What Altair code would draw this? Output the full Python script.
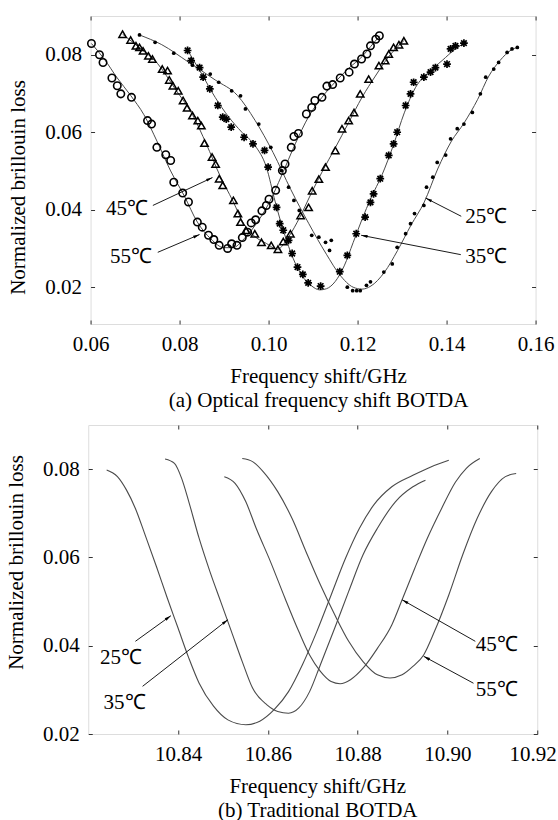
import math
import altair as alt
import pandas as pd

FONT = "Liberation Serif"
INK = "#000000"
FRAME = "#333333"
CURVE = "#4a4a4a"

# ================= panel (a): optical frequency shift BOTDA =================
A_XTICKS = [0.06, 0.08, 0.10, 0.12, 0.14, 0.16]
A_YTICKS = [0.02, 0.04, 0.06, 0.08]
A_XDOM = [0.06, 0.16]
A_YDOM = [0.0105, 0.09]

# fitted curves
A25_FIT_X = [0.0710, 0.0760, 0.0820, 0.0880, 0.0930, 0.0970, 0.1010, 0.1050, 0.1090, 0.1130,
             0.1160, 0.1190, 0.1210, 0.1230, 0.1260, 0.1290, 0.1320, 0.1350, 0.1380, 0.1410,
             0.1440, 0.1470, 0.1495, 0.1520, 0.1545, 0.1559]
A25_FIT_Y = [0.0851, 0.0826, 0.0781, 0.0735, 0.0695, 0.0630, 0.0548, 0.0452, 0.0365, 0.0285,
             0.0232, 0.0200, 0.0195, 0.0203, 0.0238, 0.0295, 0.0360, 0.0420, 0.0505, 0.0575,
             0.0625, 0.0685, 0.0745, 0.0785, 0.0812, 0.0819]
A35_FIT_X = [0.0820, 0.0850, 0.0880, 0.0910, 0.0940, 0.0970, 0.0995, 0.1015, 0.1035, 0.1055,
             0.1075, 0.1095, 0.1115, 0.1130, 0.1150, 0.1170, 0.1190, 0.1210, 0.1230, 0.1255,
             0.1280, 0.1305, 0.1330, 0.1360, 0.1390, 0.1420, 0.1440]
A35_FIT_Y = [0.0808, 0.0750, 0.0690, 0.0640, 0.0600, 0.0565, 0.0510, 0.0420, 0.0340, 0.0275,
             0.0230, 0.0205, 0.0193, 0.0196, 0.0215, 0.0255, 0.0315, 0.0375, 0.0430, 0.0490,
             0.0565, 0.0650, 0.0715, 0.0755, 0.0785, 0.0815, 0.0830]
A45_FIT_X = [0.0672, 0.0710, 0.0750, 0.0790, 0.0830, 0.0860, 0.0890, 0.0920, 0.0945, 0.0970,
             0.0995, 0.1020, 0.1045, 0.1070, 0.1095, 0.1120, 0.1150, 0.1180, 0.1210, 0.1240,
             0.1270, 0.1304]
A45_FIT_Y = [0.0853, 0.0818, 0.0778, 0.0712, 0.0643, 0.0570, 0.0490, 0.0422, 0.0362, 0.0330,
             0.0313, 0.0298, 0.0330, 0.0380, 0.0440, 0.0497, 0.0560, 0.0625, 0.0690, 0.0745,
             0.0795, 0.0836]
A55_FIT_X = [0.0602, 0.0630, 0.0660, 0.0690, 0.0720, 0.0750, 0.0780, 0.0810, 0.0840, 0.0870,
             0.0900, 0.0920, 0.0945, 0.0970, 0.1000, 0.1030, 0.1060, 0.1090, 0.1120, 0.1150,
             0.1180, 0.1210, 0.1230, 0.1250]
A55_FIT_Y = [0.0829, 0.0790, 0.0740, 0.0695, 0.0645, 0.0575, 0.0500, 0.0437, 0.0368, 0.0325,
             0.0302, 0.0302, 0.0325, 0.0360, 0.0415, 0.0490, 0.0570, 0.0640, 0.0690, 0.0730,
             0.0765, 0.0795, 0.0822, 0.0849]

# measured points
A25_PTS_X = [0.0710, 0.0745, 0.0787, 0.0829, 0.0869, 0.0888, 0.0917, 0.0937, 0.0948, 0.0978,
             0.1005, 0.1029, 0.1045, 0.1057, 0.1069, 0.1097, 0.1113, 0.1128, 0.1137, 0.1141,
             0.1161, 0.1177, 0.1189, 0.1198, 0.1206, 0.1220, 0.1229, 0.1259, 0.1278, 0.1289,
             0.1308, 0.1319, 0.1328, 0.1349, 0.1355, 0.1369, 0.1379, 0.1398, 0.1409, 0.1424,
             0.1439, 0.1458, 0.1476, 0.1488, 0.1506, 0.1517, 0.1536, 0.1547, 0.1559]
A25_PTS_Y = [0.0851, 0.0832, 0.0804, 0.0773, 0.0750, 0.0729, 0.0707, 0.0694, 0.0660, 0.0621,
             0.0561, 0.0501, 0.0458, 0.0424, 0.0398, 0.0334, 0.0329, 0.0316, 0.0295, 0.0321,
             0.0237, 0.0200, 0.0191, 0.0191, 0.0191, 0.0205, 0.0214, 0.0239, 0.0260, 0.0303,
             0.0338, 0.0364, 0.0390, 0.0411, 0.0458, 0.0484, 0.0522, 0.0541, 0.0583, 0.0609,
             0.0621, 0.0651, 0.0699, 0.0742, 0.0763, 0.0780, 0.0806, 0.0815, 0.0819]
A35_PTS_X = [0.0818, 0.0826, 0.0845, 0.0853, 0.0868, 0.0886, 0.0897, 0.0905, 0.0916, 0.0945,
             0.0965, 0.0991, 0.0999, 0.1018, 0.1025, 0.1033, 0.1045, 0.1053, 0.1065, 0.1077,
             0.1089, 0.1117, 0.1160, 0.1177, 0.1197, 0.1217, 0.1229, 0.1236, 0.1251, 0.1270,
             0.1281, 0.1289, 0.1308, 0.1319, 0.1326, 0.1349, 0.1364, 0.1375, 0.1401, 0.1409,
             0.1420, 0.1439]
A35_PTS_Y = [0.0811, 0.0785, 0.0767, 0.0742, 0.0712, 0.0669, 0.0639, 0.0634, 0.0613, 0.0587,
             0.0570, 0.0553, 0.0510, 0.0406, 0.0364, 0.0347, 0.0321, 0.0287, 0.0252, 0.0233,
             0.0211, 0.0203, 0.0240, 0.0282, 0.0338, 0.0381, 0.0419, 0.0441, 0.0480, 0.0540,
             0.0570, 0.0600, 0.0669, 0.0699, 0.0729, 0.0742, 0.0755, 0.0767, 0.0776, 0.0815,
             0.0823, 0.0830]
A45_PTS_X = [0.0672, 0.0690, 0.0702, 0.0710, 0.0718, 0.0730, 0.0739, 0.0761, 0.0773, 0.0777,
             0.0785, 0.0797, 0.0808, 0.0817, 0.0829, 0.0841, 0.0849, 0.0856, 0.0873, 0.0881,
             0.0889, 0.0897, 0.0921, 0.0931, 0.0937, 0.0949, 0.0969, 0.0984, 0.1006, 0.1021,
             0.1033, 0.1049, 0.1072, 0.1090, 0.1098, 0.1113, 0.1128, 0.1150, 0.1165, 0.1180,
             0.1192, 0.1206, 0.1225, 0.1248, 0.1262, 0.1270, 0.1281, 0.1293, 0.1304]
A45_PTS_Y = [0.0853, 0.0838, 0.0823, 0.0819, 0.0810, 0.0797, 0.0789, 0.0763, 0.0759, 0.0735,
             0.0720, 0.0707, 0.0682, 0.0663, 0.0643, 0.0630, 0.0617, 0.0572, 0.0536, 0.0518,
             0.0480, 0.0463, 0.0424, 0.0390, 0.0368, 0.0347, 0.0338, 0.0316, 0.0308, 0.0298,
             0.0318, 0.0338, 0.0385, 0.0406, 0.0449, 0.0479, 0.0510, 0.0553, 0.0609, 0.0630,
             0.0651, 0.0699, 0.0737, 0.0772, 0.0785, 0.0802, 0.0819, 0.0826, 0.0836]
A55_PTS_X = [0.0602, 0.0620, 0.0628, 0.0648, 0.0660, 0.0668, 0.0692, 0.0728, 0.0737, 0.0749,
             0.0769, 0.0780, 0.0787, 0.0807, 0.0820, 0.0840, 0.0851, 0.0865, 0.0877, 0.0889,
             0.0908, 0.0917, 0.0929, 0.0941, 0.0953, 0.0961, 0.0971, 0.0985, 0.0995, 0.1001,
             0.1016, 0.1031, 0.1037, 0.1051, 0.1057, 0.1067, 0.1085, 0.1097, 0.1104, 0.1120,
             0.1131, 0.1144, 0.1161, 0.1181, 0.1193, 0.1209, 0.1221, 0.1229, 0.1241, 0.1249]
A55_PTS_Y = [0.0829, 0.0800, 0.0780, 0.0740, 0.0720, 0.0699, 0.0690, 0.0630, 0.0621, 0.0561,
             0.0542, 0.0527, 0.0471, 0.0443, 0.0420, 0.0368, 0.0355, 0.0334, 0.0323, 0.0308,
             0.0300, 0.0312, 0.0308, 0.0328, 0.0342, 0.0366, 0.0374, 0.0397, 0.0411, 0.0427,
             0.0450, 0.0501, 0.0518, 0.0561, 0.0589, 0.0597, 0.0647, 0.0664, 0.0682, 0.0690,
             0.0719, 0.0723, 0.0740, 0.0755, 0.0776, 0.0789, 0.0802, 0.0823, 0.0840, 0.0849]

# annotations
A_LABELS = ["25℃", "35℃", "45℃", "55℃"]
A_LABEL_SIDE = ["left", "left", "right", "right"]
A_LABEL_X = [0.1442, 0.1442, 0.0729, 0.0738]
A_LABEL_Y = [0.0381, 0.0278, 0.0402, 0.0277]
A_ARROW_X0 = [0.1433, 0.1432, 0.0740, 0.0751]
A_ARROW_Y0 = [0.0383, 0.0284, 0.0411, 0.0290]
A_ARROW_X1 = [0.1353, 0.1208, 0.0874, 0.0845]
A_ARROW_Y1 = [0.0430, 0.0334, 0.0483, 0.0336]

# ================= panel (b): traditional BOTDA =================
B_XTICKS = [10.84, 10.86, 10.88, 10.90, 10.92]
B_YTICKS = [0.02, 0.04, 0.06, 0.08]
B_XDOM = [10.82, 10.92]
B_YDOM = [0.02, 0.09]

B25_X = [10.8241, 10.8265, 10.8285, 10.8305, 10.8328, 10.8352, 10.8376, 10.8400, 10.8424, 10.8447,
         10.8479, 10.8511, 10.8551, 10.8582, 10.8614, 10.8646, 10.8677, 10.8709, 10.8741, 10.8773,
         10.8804, 10.8836, 10.8876, 10.8923, 10.8963, 10.9003]
B25_Y = [0.0798, 0.0783, 0.0753, 0.0711, 0.0647, 0.0579, 0.0508, 0.0440, 0.0372, 0.0315,
         0.0263, 0.0232, 0.0221, 0.0229, 0.0255, 0.0296, 0.0357, 0.0432, 0.0515, 0.0598,
         0.0666, 0.0719, 0.0760, 0.0786, 0.0805, 0.0820]
B35_X = [10.8371, 10.8392, 10.8408, 10.8424, 10.8447, 10.8471, 10.8495, 10.8519, 10.8543, 10.8566,
         10.8598, 10.8622, 10.8646, 10.8669, 10.8693, 10.8717, 10.8749, 10.8780, 10.8812, 10.8844,
         10.8884, 10.8923, 10.8951]
B35_Y = [0.0823, 0.0813, 0.0779, 0.0726, 0.0643, 0.0568, 0.0500, 0.0432, 0.0364, 0.0304,
         0.0266, 0.0251, 0.0247, 0.0259, 0.0296, 0.0357, 0.0440, 0.0523, 0.0606, 0.0666,
         0.0726, 0.0760, 0.0775]
B45_X = [10.8503, 10.8527, 10.8551, 10.8574, 10.8606, 10.8638, 10.8669, 10.8693, 10.8717, 10.8741,
         10.8761, 10.8784, 10.8812, 10.8844, 10.8876, 10.8899, 10.8927, 10.8955, 10.8987, 10.9018,
         10.9042, 10.9072]
B45_Y = [0.0783, 0.0768, 0.0726, 0.0666, 0.0590, 0.0508, 0.0432, 0.0379, 0.0342, 0.0319,
         0.0314, 0.0323, 0.0349, 0.0394, 0.0447, 0.0504, 0.0575, 0.0643, 0.0711, 0.0771,
         0.0802, 0.0824]
B55_X = [10.8543, 10.8566, 10.8590, 10.8622, 10.8654, 10.8685, 10.8717, 10.8749, 10.8780, 10.8812,
         10.8844, 10.8872, 10.8899, 10.8923, 10.8947, 10.8971, 10.9003, 10.9034, 10.9066, 10.9098,
         10.9129, 10.9153]
B55_Y = [0.0824, 0.0817, 0.0794, 0.0749, 0.0688, 0.0613, 0.0538, 0.0470, 0.0410, 0.0364,
         0.0334, 0.0327, 0.0334, 0.0353, 0.0379, 0.0432, 0.0515, 0.0606, 0.0688, 0.0749,
         0.0783, 0.0790]

B_LABELS = ["25℃", "35℃", "45℃", "55℃"]
B_LABEL_X = [10.8273, 10.8281, 10.9110, 10.9110]
B_LABEL_Y = [0.0372, 0.0270, 0.0402, 0.0300]
B_ARROW_X0 = [10.8305, 10.8321, 10.9062, 10.9058]
B_ARROW_Y0 = [0.0410, 0.0308, 0.0410, 0.0315]
B_ARROW_X1 = [10.8384, 10.8511, 10.8899, 10.8947]
B_ARROW_Y1 = [0.0468, 0.0459, 0.0504, 0.0376]

SERIES = ["25℃", "35℃", "45℃", "55℃"]

# ---------------- helpers ----------------
ASTERISK = "M-1,0L1,0M0,-1L0,1M-0.72,-0.72L0.72,0.72M-0.72,0.72L0.72,-0.72"
ARROWHEAD = "M0,0L0.45,2L-0.45,2Z"
FS = 21


def curves_df(xs, ys):
    frames = [pd.DataFrame({"f": x, "v": y, "s": s}) for s, x, y in zip(SERIES, xs, ys)]
    return pd.concat(frames, ignore_index=True)


def arrows_df(x0, y0, x1, y1, xdom, ydom, w, h):
    ang = []
    for a, b, c, d in zip(x0, y0, x1, y1):
        ux = (c - a) / (xdom[1] - xdom[0]) * w
        uy = -(d - b) / (ydom[1] - ydom[0]) * h
        ang.append(math.degrees(math.atan2(ux, -uy)) % 360)
    return pd.DataFrame({"x0": x0, "y0": y0, "x1": x1, "y1": y1, "ang": ang})


def bottom_axis(values, title, flush, title_x, flush_offset=0):
    kw = dict(orient="bottom", values=values, format=".2f", offset=-4, tickSize=4,
              domain=False, grid=False, tickColor=FRAME, tickWidth=1,
              labelFont=FONT, labelFontSize=FS, labelColor=INK, labelPadding=9,
              labelFlush=flush, labelOverlap=False,
              title=title, titleFont=FONT, titleFontSize=FS, titleFontWeight="normal",
              titleColor=INK, titlePadding=11, titleLineHeight=24, titleX=title_x)
    if flush:
        kw["labelFlushOffset"] = flush_offset
    return alt.Axis(**kw)


def left_axis(values, title_y):
    return alt.Axis(orient="left", values=values, format=".2f", offset=-4, tickSize=4,
                    domain=False, grid=False, tickColor=FRAME, tickWidth=1,
                    labelFont=FONT, labelFontSize=FS, labelColor=INK, labelPadding=9,
                    labelOverlap=False,
                    title="Normalized brillouin loss", titleFont=FONT, titleFontSize=FS,
                    titleFontWeight="normal", titleColor=INK, titlePadding=16,
                    titleY=title_y)


def mirror_axis(orient, values):
    return alt.Axis(orient=orient, values=values, offset=-4, tickSize=4, labels=False,
                    domain=False, grid=False, tickColor=FRAME, tickWidth=1, title=None)


def annotation_layers(lab_df, arr_df, xs, ys, extra_axes=None):
    rules = alt.Chart(arr_df).mark_rule(color=INK, strokeWidth=0.9).encode(
        x=alt.X("x0:Q", scale=xs, axis=None), y=alt.Y("y0:Q", scale=ys, axis=None),
        x2="x1:Q", y2="y1:Q")
    if extra_axes:
        hx = alt.X("x1:Q", scale=xs, axis=extra_axes[0])
        hy = alt.Y("y1:Q", scale=ys, axis=extra_axes[1])
    else:
        hx = alt.X("x1:Q", scale=xs, axis=None)
        hy = alt.Y("y1:Q", scale=ys, axis=None)
    heads = alt.Chart(arr_df).mark_point(shape=ARROWHEAD, filled=True, color=INK,
                                         size=42, opacity=1).encode(
        x=hx, y=hy, angle=alt.Angle("ang:Q", scale=None))
    layers = [rules, heads]
    for side in ["left", "right", "center"]:
        sub = lab_df[lab_df["side"] == side]
        if len(sub) == 0:
            continue
        layers.append(
            alt.Chart(sub).mark_text(align=side, baseline="middle", font=FONT,
                                     fontSize=FS, color=INK).encode(
                x=alt.X("x:Q", scale=xs, axis=None), y=alt.Y("y:Q", scale=ys, axis=None),
                text="t:N"))
    return layers


# ---------------- panel (a) ----------------
AW, AH = 445, 308
xa = alt.Scale(domain=A_XDOM, nice=False, zero=False)
ya = alt.Scale(domain=A_YDOM, nice=False, zero=False)

fit_a = curves_df([A25_FIT_X, A35_FIT_X, A45_FIT_X, A55_FIT_X],
                  [A25_FIT_Y, A35_FIT_Y, A45_FIT_Y, A55_FIT_Y])
lines_a = alt.Chart(fit_a).mark_line(interpolate="monotone", color=CURVE,
                                     strokeWidth=1).encode(
    x=alt.X("f:Q", scale=xa,
            axis=bottom_axis(A_XTICKS, ["Frequency shift/GHz", "(a) Optical frequency shift BOTDA"],
                             False, AW / 2 + 5)),
    y=alt.Y("v:Q", scale=ya, axis=left_axis(A_YTICKS, 171)),
    detail="s:N")

p25 = alt.Chart(pd.DataFrame({"f": A25_PTS_X, "v": A25_PTS_Y})).mark_point(
    shape="circle", filled=True, color=INK, size=14, opacity=1).encode(
    x=alt.X("f:Q", scale=xa, axis=mirror_axis("top", A_XTICKS)),
    y=alt.Y("v:Q", scale=ya, axis=mirror_axis("right", A_YTICKS)))
p35 = alt.Chart(pd.DataFrame({"f": A35_PTS_X, "v": A35_PTS_Y})).mark_point(
    shape=ASTERISK, filled=False, color=INK, strokeWidth=1.7, size=60, opacity=1).encode(
    x=alt.X("f:Q", scale=xa, axis=None), y=alt.Y("v:Q", scale=ya, axis=None))
p45 = alt.Chart(pd.DataFrame({"f": A45_PTS_X, "v": A45_PTS_Y})).mark_point(
    shape="triangle-up", filled=False, color=INK, strokeWidth=1.5, size=55, opacity=1).encode(
    x=alt.X("f:Q", scale=xa, axis=None), y=alt.Y("v:Q", scale=ya, axis=None))
p55 = alt.Chart(pd.DataFrame({"f": A55_PTS_X, "v": A55_PTS_Y})).mark_point(
    shape="circle", filled=False, color=INK, strokeWidth=1.6, size=55, opacity=1).encode(
    x=alt.X("f:Q", scale=xa, axis=None), y=alt.Y("v:Q", scale=ya, axis=None))

lab_a = pd.DataFrame({"t": A_LABELS, "x": A_LABEL_X, "y": A_LABEL_Y, "side": A_LABEL_SIDE})
arr_a = arrows_df(A_ARROW_X0, A_ARROW_Y0, A_ARROW_X1, A_ARROW_Y1, A_XDOM, A_YDOM, AW, AH)

panel_a = alt.layer(lines_a, p25, p35, p45, p55,
                    *annotation_layers(lab_a, arr_a, xa, ya)).resolve_axis(
    x="independent", y="independent").properties(width=AW, height=AH)

# ---------------- panel (b) ----------------
BW, BH = 449, 309
xb = alt.Scale(domain=B_XDOM, nice=False, zero=False)
yb = alt.Scale(domain=B_YDOM, nice=False, zero=False)

fit_b = curves_df([B25_X, B35_X, B45_X, B55_X], [B25_Y, B35_Y, B45_Y, B55_Y])
lines_b = alt.Chart(fit_b).mark_line(interpolate="monotone", color=CURVE,
                                     strokeWidth=1.1).encode(
    x=alt.X("f:Q", scale=xb,
            axis=bottom_axis(B_XTICKS, ["Frequency shift/GHz", "(b) Traditional BOTDA"],
                             True, BW / 2 + 4.5, 19)),
    y=alt.Y("v:Q", scale=yb, axis=left_axis(B_YTICKS, 137)),
    detail="s:N")

lab_b = pd.DataFrame({"t": B_LABELS, "x": B_LABEL_X, "y": B_LABEL_Y,
                      "side": ["center"] * 4})
arr_b = arrows_df(B_ARROW_X0, B_ARROW_Y0, B_ARROW_X1, B_ARROW_Y1, B_XDOM, B_YDOM, BW, BH)

panel_b = alt.layer(lines_b,
                    *annotation_layers(lab_b, arr_b, xb, yb,
                                       extra_axes=(mirror_axis("top", B_XTICKS),
                                                   mirror_axis("right", B_YTICKS)))
                    ).resolve_axis(x="independent", y="independent").properties(
    width=BW, height=BH)

chart = alt.vconcat(panel_a, panel_b, spacing=13, center=True).properties(
    padding={"left": 5, "top": 15, "right": 0, "bottom": 0},
    background="white",
).configure_view(stroke=FRAME, strokeWidth=1).configure(font=FONT)

chart.save("out.html", embed_options={"renderer": "svg", "actions": False})
